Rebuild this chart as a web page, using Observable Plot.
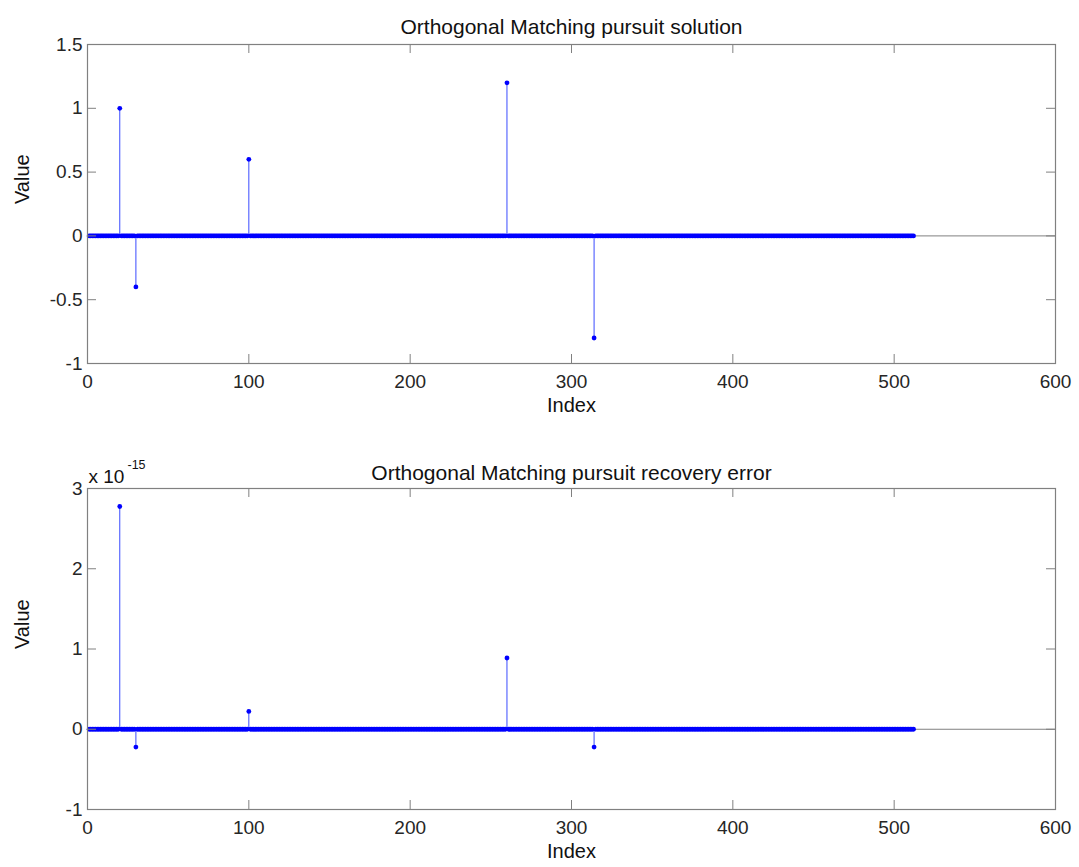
<!DOCTYPE html>
<html>
<head>
<meta charset="utf-8">
<script src="https://cdn.jsdelivr.net/npm/d3@7"></script>
<script src="https://cdn.jsdelivr.net/npm/@observablehq/plot@0.6"></script>
<style>
  html, body { margin: 0; padding: 0; background: #fff; }
  #wrap { position: relative; width: 1079px; height: 867px; overflow: hidden; }
  #top, #bottom { position: absolute; left: 0; }
  #top { top: 0; }
  #bottom { top: 432px; }
</style>
</head>
<body>
<div id="wrap"><div id="top"></div><div id="bottom"></div></div>
<script>
// ---- data ----
const signalLength = 512;
const nonzeroIndex = [20, 30, 100, 260, 314];
const solutionValues = [1, -0.4, 0.6, 1.2, -0.8];
const errorValues = [2.776e-15, -2.22e-16, 2.22e-16, 8.88e-16, -2.22e-16];

const xTicks = [0, 100, 200, 300, 400, 500, 600];
const yTicksTop = [-1, -0.5, 0, 0.5, 1, 1.5];
const yTicksBottom = [-1e-15, 0, 1e-15, 2e-15, 3e-15];
const yTickLabelsBottom = ["-1", "0", "1", "2", "3"];

const titles = ["Orthogonal Matching pursuit solution", "Orthogonal Matching pursuit recovery error"];
const xLabel = "Index";
const yLabel = "Value";
const exponentBase = "x 10";
const exponentPower = "-15";

// full sparse vectors (zeros except at the nonzero indices)
function series(vals) {
  const m = new Map(nonzeroIndex.map((k, j) => [k, vals[j]]));
  return d3.range(1, signalLength + 1).map(i => ({i, v: m.has(i) ? m.get(i) : 0}));
}

const W = 1079;
const FONT = "'Liberation Sans', Arial, Helvetica, sans-serif";
const frameColor = "#808080";
const tickLen = 9;

function panel({data, height, mt, mb, yDomain, yTicks, yFormat, title, titleDy, extra = []}) {
  const ml = 87, mr = 24;
  const fw = W - ml - mr, fh = height - mt - mb;
  return Plot.plot({
    width: W, height,
    marginLeft: ml, marginRight: mr, marginTop: mt, marginBottom: mb,
    style: {fontFamily: FONT, fontSize: "19px", color: "#262626", background: "#fff", overflow: "visible"},
    x: {domain: [0, 600], ticks: xTicks, tickSize: 0, tickPadding: 11, label: null, tickFormat: d => String(d)},
    y: {domain: yDomain, ticks: yTicks, tickSize: 0, tickPadding: 5, label: null, tickFormat: yFormat},
    marks: [
      // baseline
      Plot.ruleY([0], {stroke: frameColor, strokeWidth: 1}),
      // stems
      Plot.ruleX(data.filter(d => d.v !== 0), {x: "i", y1: 0, y2: "v", stroke: "#3a4bff", strokeWidth: 1}),
      // markers
      Plot.dot(data, {x: "i", y: "v", r: 2.4, fill: "#0000ff", stroke: "none"}),
      // frame
      Plot.frame({stroke: frameColor, strokeWidth: 1.2}),
      // inward ticks
      Plot.ruleX(xTicks, {x: d => d, insetTop: fh - tickLen, stroke: frameColor}),
      Plot.ruleX(xTicks, {x: d => d, insetBottom: fh - tickLen, stroke: frameColor}),
      Plot.ruleY(yTicks, {y: d => d, insetRight: fw - tickLen, stroke: frameColor}),
      Plot.ruleY(yTicks, {y: d => d, insetLeft: fw - tickLen, stroke: frameColor}),
      // title and labels
      Plot.text([title], {text: d => d, frameAnchor: "top", dy: titleDy, fontSize: 21, fill: "#111"}),
      Plot.text([xLabel], {text: d => d, frameAnchor: "bottom", dy: 48, fontSize: 20, fill: "#111"}),
      Plot.text([yLabel], {text: d => d, frameAnchor: "left", dx: -65, rotate: -90, fontSize: 20, fill: "#111"}),
      ...extra
    ]
  });
}

document.getElementById("top").append(panel({
  data: series(solutionValues), height: 432, mt: 44, mb: 69,
  yDomain: [-1, 1.5], yTicks: yTicksTop, yFormat: d => String(d),
  title: titles[0], titleDy: -25
}));

document.getElementById("bottom").append(panel({
  data: series(errorValues), height: 435, mt: 56, mb: 58,
  yDomain: [-1e-15, 3e-15], yTicks: yTicksBottom,
  yFormat: d => yTickLabelsBottom[yTicksBottom.findIndex(t => Math.abs(t - d) < 1e-20)],
  title: titles[1], titleDy: -23,
  extra: [
    Plot.text([exponentBase], {text: d => d, frameAnchor: "top-left", textAnchor: "start", dx: 1, dy: -19, fontSize: 19, fill: "#111"}),
    Plot.text([exponentPower], {text: d => d, frameAnchor: "top-left", textAnchor: "start", dx: 40, dy: -28, fontSize: 12.5, fill: "#111"})
  ]
}));
</script>
</body>
</html>
